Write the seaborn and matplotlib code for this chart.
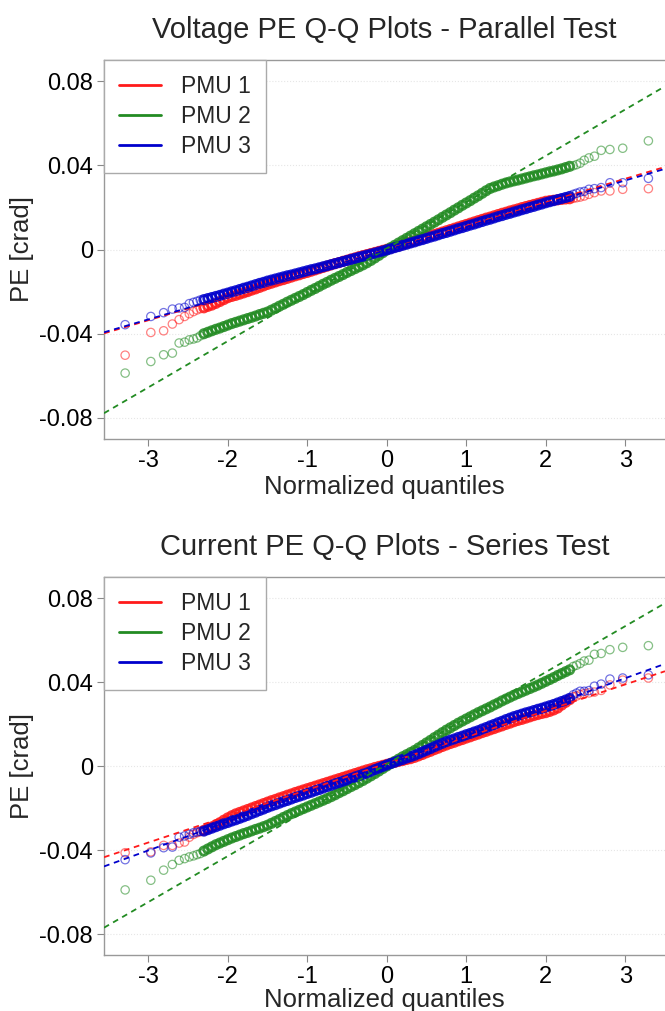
import numpy as np
import pandas as pd
import matplotlib
matplotlib.use("Agg")
import matplotlib.pyplot as plt
from matplotlib.lines import Line2D
import seaborn as sns

sns.set_style("white")
plt.rcParams['font.family'] = ['Liberation Sans', 'DejaVu Sans']

# ---------------- data ----------------
# theoretical normal quantiles (x positions of the Q-Q points)
Q_LOW = [-3.291, -2.968, -2.807, -2.697, -2.612, -2.543, -2.484, -2.432, -2.387, -2.346]
Q_MID = [-2.30, -2.25, -2.20, -2.15, -2.10, -2.05, -2.00, -1.95, -1.90, -1.85,
         -1.80, -1.75, -1.70, -1.65, -1.60, -1.55, -1.50, -1.45, -1.40, -1.35,
         -1.30, -1.25, -1.20, -1.15, -1.10, -1.05, -1.00, -0.95, -0.90, -0.85,
         -0.80, -0.75, -0.70, -0.65, -0.60, -0.55, -0.50, -0.45, -0.40, -0.35,
         -0.30, -0.25, -0.20, -0.15, -0.10, -0.05, 0.00, 0.05, 0.10, 0.15,
         0.20, 0.25, 0.30, 0.35, 0.40, 0.45, 0.50, 0.55, 0.60, 0.65,
         0.70, 0.75, 0.80, 0.85, 0.90, 0.95, 1.00, 1.05, 1.10, 1.15,
         1.20, 1.25, 1.30, 1.35, 1.40, 1.45, 1.50, 1.55, 1.60, 1.65,
         1.70, 1.75, 1.80, 1.85, 1.90, 1.95, 2.00, 2.05, 2.10, 2.15,
         2.20, 2.25, 2.30]
Q_HIGH = [2.346, 2.387, 2.432, 2.484, 2.543, 2.612, 2.697, 2.807, 2.968, 3.291]
QUANTILES = Q_LOW + Q_MID + Q_HIGH

PMU_NAMES = ["PMU 1", "PMU 2", "PMU 3"]
PMU_COLORS = ["#FF1A1A", "#228B22", "#0000CC"]

# sorted phase errors, in units of 1e-4 crad
V_PMU1 = [-502, -394, -386, -354, -333, -318, -305, -295, -287, -281,
          -277, -270, -264, -256, -247, -238, -229, -223, -218, -212,
          -206, -200, -193, -187, -180, -173, -166, -160, -154, -148,
          -143, -137, -131, -125, -120, -114, -109, -103, -97, -91,
          -85, -79, -73, -67, -62, -56, -51, -45, -40, -34,
          -29, -24, -19, -14, -9, -4, 1, 6, 12, 17,
          23, 29, 35, 41, 47, 53, 59, 65, 71, 77,
          83, 89, 95, 101, 107, 113, 119, 125, 131, 137,
          143, 149, 154, 160, 166, 172, 177, 183, 188, 193,
          199, 204, 209, 214, 219, 224, 229, 232, 234, 236,
          238, 240, 241,
          243, 246, 249, 254, 262, 270, 278, 278, 286, 289]
V_PMU2 = [-587, -532, -500, -492, -444, -440, -429, -425, -420, -410,
          -400, -393, -386, -379, -373, -366, -359, -352, -346, -340,
          -334, -328, -322, -316, -309, -303, -297, -288, -279, -269,
          -260, -250, -241, -232, -223, -214, -204, -194, -185, -175,
          -165, -156, -146, -137, -128, -119, -109, -100, -91, -82,
          -73, -63, -52, -40, -28, -15, -2, 9, 20, 31,
          42, 53, 64, 75, 86, 97, 108, 119, 130, 141,
          153, 164, 175, 187, 198, 210, 221, 232, 244, 255,
          267, 279, 290, 297, 303, 310, 316, 321, 326, 330,
          335, 340, 345, 350, 354, 359, 364, 369, 373, 378,
          383, 389, 395,
          398, 403, 410, 424, 435, 443, 471, 475, 481, 516]
V_PMU3 = [-357, -318, -300, -283, -278, -275, -257, -251, -246, -240,
          -238, -233, -228, -223, -218, -212, -207, -201, -196, -190,
          -184, -179, -173, -167, -161, -156, -150, -145, -140, -135,
          -130, -125, -121, -116, -111, -106, -101, -96, -92, -87,
          -82, -77, -72, -67, -62, -57, -52, -47, -42, -37,
          -32, -27, -22, -17, -12, -7, -2, 3, 9, 14,
          20, 25, 31, 36, 42, 47, 53, 59, 64, 70,
          76, 81, 87, 93, 99, 104, 110, 116, 121, 127,
          133, 139, 144, 150, 156, 161, 167, 172, 178, 183,
          189, 194, 200, 205, 211, 216, 222, 227, 232, 237,
          242, 247, 252,
          262, 267, 273, 276, 286, 289, 294, 317, 317, 338]

I_PMU1 = [-413, -409, -378, -378, -367, -362, -339, -326, -318, -313,
          -306, -298, -290, -280, -270, -258, -247, -237, -228, -221,
          -214, -207, -200, -193, -186, -179, -172, -165, -159, -152,
          -146, -139, -133, -126, -120, -114, -108, -102, -96, -90,
          -84, -78, -72, -66, -60, -54, -48, -42, -36, -30,
          -24, -18, -13, -7, -2, 3, 8, 13, 17, 22,
          26, 31, 35, 41, 48, 55, 63, 70, 78, 85,
          93, 100, 107, 113, 120, 126, 133, 139, 146, 152,
          159, 165, 172, 178, 185, 191, 198, 204, 211, 217,
          222, 228, 234, 240, 245, 250, 254, 260, 267, 276,
          290, 303, 316,
          330, 333, 340, 345, 348, 352, 360, 386, 409, 419]
I_PMU2 = [-590, -544, -496, -469, -449, -441, -433, -428, -422, -417,
          -405, -395, -385, -375, -367, -359, -351, -343, -336, -329,
          -322, -316, -309, -302, -296, -289, -282, -273, -264, -255,
          -245, -236, -227, -219, -211, -203, -195, -187, -179, -171,
          -163, -155, -146, -137, -127, -118, -108, -98, -89, -79,
          -69, -58, -47, -36, -24, -12, 0, 11, 22, 33,
          44, 54, 64, 74, 86, 98, 110, 122, 135, 147,
          159, 171, 182, 193, 204, 214, 224, 234, 244, 254,
          263, 272, 281, 291, 300, 310, 319, 328, 337, 345,
          353, 361, 369, 377, 385, 394, 403, 412, 421, 431,
          440, 449, 458,
          474, 480, 488, 500, 504, 532, 536, 554, 565, 573]
I_PMU3 = [-446, -414, -389, -386, -339, -333, -325, -318, -314, -311,
          -310, -303, -296, -289, -282, -275, -269, -262, -256, -249,
          -242, -235, -227, -220, -212, -205, -197, -190, -184, -177,
          -170, -164, -157, -150, -144, -138, -131, -125, -118, -112,
          -105, -98, -92, -85, -79, -72, -66, -59, -52, -46,
          -39, -33, -25, -17, -10, -2, 5, 12, 18, 25,
          31, 38, 44, 51, 59, 67, 75, 83, 92, 100,
          108, 116, 123, 129, 136, 142, 149, 155, 162, 168,
          176, 183, 191, 198, 206, 213, 221, 228, 235, 241,
          247, 253, 258, 264, 270, 275, 281, 287, 293, 300,
          307, 314, 322,
          339, 347, 356, 356, 359, 380, 390, 414, 419, 434]

# reference (quartile) lines: slope [crad per unit quantile], intercept [crad]
V_LINE_SLOPE = [0.0112, 0.0220, 0.0110]
V_LINE_INTERCEPT = [0.0000, 0.0005, -0.0002]
I_LINE_SLOPE = [0.01255, 0.0219, 0.01367]
I_LINE_INTERCEPT = [0.0012, 0.0009, 0.0008]

PANELS = [
    ("Voltage PE Q-Q Plots - Parallel Test", [V_PMU1, V_PMU2, V_PMU3], V_LINE_SLOPE, V_LINE_INTERCEPT),
    ("Current PE Q-Q Plots - Series Test", [I_PMU1, I_PMU2, I_PMU3], I_LINE_SLOPE, I_LINE_INTERCEPT),
]
UNIT = 1e-4  # stored values are in 1e-4 crad

XTICKS = [-3, -2, -1, 0, 1, 2, 3]
YTICKS = [-0.08, -0.04, 0, 0.04, 0.08]
YTICKLABELS = ["-0.08", "-0.04", "0", "0.04", "0.08"]

# ---------------- figure ----------------
W, H = 665, 1011
fig = plt.figure(figsize=(W / 100, H / 100), dpi=100)
ax_boxes = [(104, 60, 665, 439), (104, 577, 665, 955)]
n_low, n_mid = len(Q_LOW), len(Q_MID)

for i, ((title, series, slopes, intercepts), (l, t, r, b)) in enumerate(zip(PANELS, ax_boxes)):
    ax = fig.add_axes([l / W, 1 - b / H, (r - l) / W, (b - t) / H])
    rows = []
    for name, vals in zip(PMU_NAMES, series):
        for k, (q, v) in enumerate(zip(QUANTILES, vals)):
            dense = n_low <= k < n_low + n_mid
            rows.append({"q": q, "pe": v * UNIT, "pmu": name, "dense": dense})
    df = pd.DataFrame(rows)
    for name, col in zip(PMU_NAMES, PMU_COLORS):
        sub = df[df["pmu"] == name]
        # sparse tail points: thin open circles
        sns.scatterplot(data=sub[~sub["dense"]], x="q", y="pe", ax=ax, marker="o", s=36,
                        color=col, facecolors="none", edgecolor=col,
                        linewidth=0.9, alpha=0.55, legend=False, zorder=2)
        # densely overlapping central points
        sns.scatterplot(data=sub[sub["dense"]], x="q", y="pe", ax=ax, marker="o", s=36,
                        color=col, facecolors="none", edgecolor=col,
                        linewidth=2.0, alpha=0.85, legend=False, zorder=2)
    for name, col, a, c in zip(PMU_NAMES, PMU_COLORS, slopes, intercepts):
        ax.axline((0, c), slope=a, color=col, lw=1.3, ls=(0, (3.2, 2.6)), zorder=3)

    ax.set_xlim(-3.557, 3.50)
    ax.set_ylim(-0.09, 0.09)
    ax.set_xticks(XTICKS)
    ax.set_xticklabels([str(v) for v in XTICKS])
    ax.set_yticks(YTICKS)
    ax.set_yticklabels(YTICKLABELS)
    ax.tick_params(axis="both", direction="out", length=5, width=0.8,
                   color="#888888", labelsize=17, labelcolor="black", pad=3)
    ax.tick_params(left=True, bottom=True)
    ax.yaxis.grid(True, color="#E6E6E6", ls=":", lw=0.8)
    ax.xaxis.grid(False)
    for side in ["left", "bottom", "top"]:
        ax.spines[side].set_visible(True)
        ax.spines[side].set_color("#999999")
        ax.spines[side].set_linewidth(1.0)
    ax.spines["right"].set_visible(False)
    ax.set_xlabel("Normalized quantiles", fontsize=18.5, labelpad=(2 if i == 0 else 0))
    ax.set_ylabel("PE [crad]", fontsize=18.5, labelpad=4)
    ax.set_title(title, fontsize=21, pad=15.5)

    handles = [Line2D([0], [0], color=c, lw=2) for c in PMU_COLORS]
    leg = ax.legend(handles, PMU_NAMES, loc="upper left", bbox_to_anchor=(0, 1),
                    borderaxespad=0, fancybox=False, edgecolor="#AAAAAA",
                    framealpha=1, fontsize=16.5, handlelength=1.85,
                    handletextpad=0.85, labelspacing=0.3, borderpad=0.65)
    leg.get_frame().set_linewidth(1.0)

fig.savefig("out.png", dpi=100)
